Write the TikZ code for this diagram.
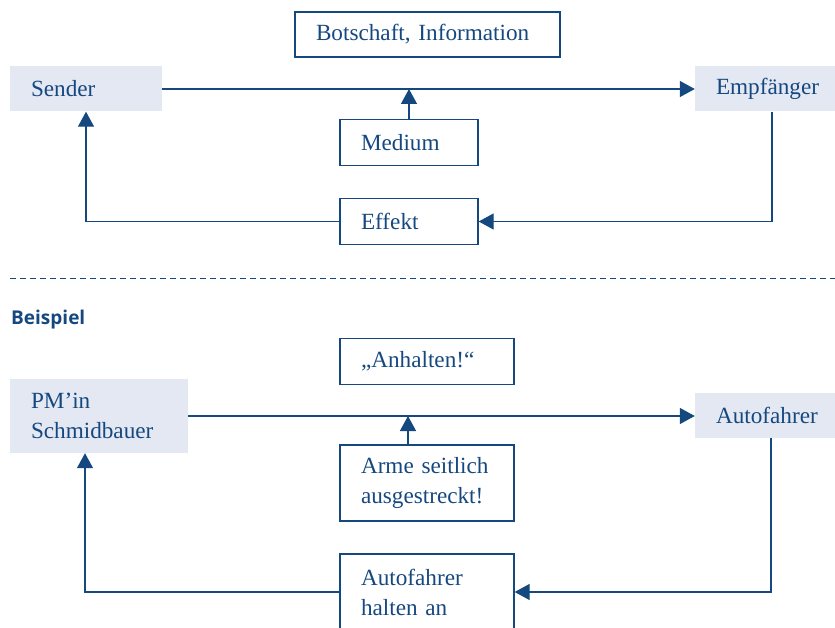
\documentclass[tikz,border=0pt]{standalone}
\usepackage{fontspec}
\usepackage{xcolor}
\usetikzlibrary{arrows.meta}
\setmainfont{Liberation Serif}
\newfontfamily\headfont{Open Sans}
\definecolor{ink}{RGB}{22,72,128}
\definecolor{shade}{RGB}{228,232,243}
\tikzstyle{plain box}=[
        draw = ink,
        line width = 1.3pt,
        text = ink,
        inner xsep = 21pt,
        inner ysep = 0pt,
        align = left
    ]
\tikzstyle{role box}=[
    fill = shade,
    text = ink,
    inner xsep = 21pt,
    inner ysep = 0pt,
    align = left
]
\tikzstyle{flow}=[
    draw = ink,
    line width = 1.3pt,
    -{Triangle[length=15pt,width=16pt]}
]

\begin{document}
\begin{tikzpicture}[x=1pt, y=-1pt, font=\fontsize{23.2}{30}\selectfont]
        \useasboundingbox (0,0) rectangle (835,628);

        % Modell
        \node[plain box, text width=223pt, minimum height=45pt] (botschaft) at (427.5,34.5) {Botschaft, Information};
        \node[role box, text width=110pt, minimum height=45pt] (sender) at (86,89) {Sender};
        \node[role box, text width=105pt, minimum height=45pt] (empf) at (768.5,89) {Empfänger};
        \node[plain box, text width=96pt, minimum height=46pt] (medium) at (409,142.5) {Medium};
        \node[plain box, text width=96pt, minimum height=46pt] (effekt) at (409,221.5) {Effekt};

        \draw[flow] (sender.east) -- (sender.east -| empf.west);
        \draw[flow] (medium.north) -- (medium.north |- sender.east);
        \draw[flow] ([xshift=3.5pt]empf.south) |- (effekt.east);
        \draw[flow] (effekt.west) -| (sender.south);

        \coordinate (cutL) at (10,279);
        \coordinate (cutR) at (835,279);
        \draw[ink, line width=1pt, dash pattern=on 6pt off 4pt] (cutL) -- (cutR);

        % Beispiel
        \node[anchor=west, inner sep=0pt, text=ink, font=\headfont\bfseries\fontsize{19}{22}\selectfont] (beispiel) at (11,320) {Beispiel};

        \node[plain box, text width=132pt, minimum height=46pt] (anhalten) at (427,361.5) {„Anhalten!“};
        \node[role box, text width=136pt, minimum height=74pt] (pm) at (99,416) {PM’in\\Schmidbauer};
        \node[role box, text width=105pt, minimum height=45pt] (autof) at (768.5,415.5) {Autofahrer};
        \node[plain box, text width=132pt, minimum height=76pt] (arme) at (427,483) {Arme seitlich\\ausgestreckt!};
        \node[plain box, text width=132pt, minimum height=76pt] (halten) at (427,592) {Autofahrer\\halten an};

        \draw[flow] (pm.east) -- (pm.east -| autof.west);
        \draw[flow] ([xshift=-19pt]arme.north) -- ([xshift=-19pt]arme.north |- pm.east);
        \draw[flow] ([xshift=2.5pt]autof.south) |- (halten.east);
        \draw[flow] (halten.west) -| ([xshift=-14pt]pm.south);

    \end{tikzpicture}
\end{document}
